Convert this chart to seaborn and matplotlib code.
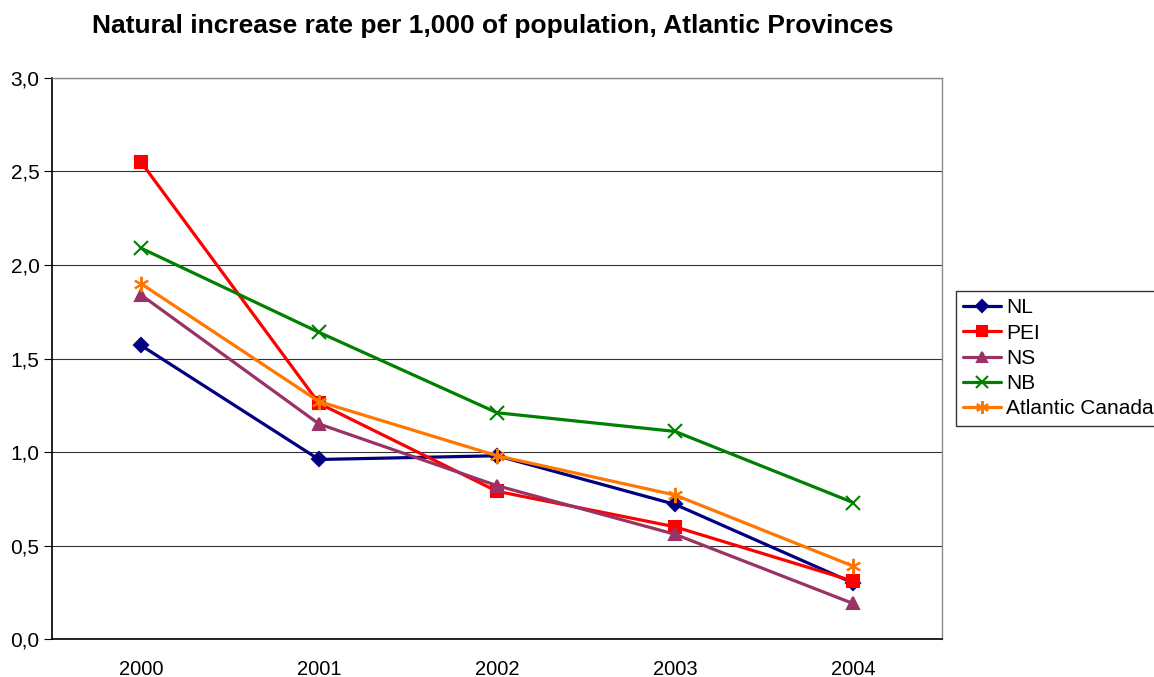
import matplotlib
matplotlib.use("Agg")
import matplotlib.pyplot as plt
import seaborn as sns
import pandas as pd

years = ["2000", "2001", "2002", "2003", "2004"]
nl = [1.57, 0.96, 0.98, 0.72, 0.30]
pei = [2.55, 1.26, 0.79, 0.60, 0.31]
ns = [1.84, 1.15, 0.82, 0.56, 0.19]
nb = [2.09, 1.64, 1.21, 1.11, 0.73]
atlantic = [1.90, 1.27, 0.98, 0.77, 0.39]

series = {"NL": nl, "PEI": pei, "NS": ns, "NB": nb, "Atlantic Canada": atlantic}
colors = {"NL": "#000080", "PEI": "#FF0000", "NS": "#993366",
          "NB": "#008000", "Atlantic Canada": "#FF7700"}
markers = {"NL": "D", "PEI": "s", "NS": "^", "NB": "x", "Atlantic Canada": (6, 2, 0)}
msizes = {"NL": 7.5, "PEI": 9, "NS": 9, "NB": 10, "Atlantic Canada": 11}

rows = []
for name, vals in series.items():
    for i, v in enumerate(vals):
        rows.append({"pos": i, "year": years[i], "Region": name, "value": v})
df = pd.DataFrame(rows)

sns.set_theme(style="white")
plt.rcParams["font.family"] = ["Liberation Sans", "DejaVu Sans"]
plt.rcParams["text.color"] = "black"
plt.rcParams["xtick.color"] = "black"
plt.rcParams["ytick.color"] = "black"
plt.rcParams["xtick.labelcolor"] = "black"
plt.rcParams["ytick.labelcolor"] = "black"

fig = plt.figure(figsize=(11.54, 6.77), dpi=100)
ax = fig.add_axes([0.0451, 0.0561, 0.7712, 0.8287])

for name in series:
    sub = df[df["Region"] == name]
    sns.lineplot(data=sub, x="pos", y="value", ax=ax, color=colors[name],
                 marker=markers[name], markersize=msizes[name],
                 markeredgecolor=colors[name], markeredgewidth=1.5,
                 linewidth=2.3, label=name, legend=False)

ax.set_xlim(-0.5, 4.5)
ax.set_ylim(0, 3.0)
ax.set_yticks([0, 0.5, 1.0, 1.5, 2.0, 2.5, 3.0])
ax.set_yticklabels([f"{t:.1f}".replace(".", ",") for t in ax.get_yticks()], fontsize=15)
ax.set_xticks(range(len(years)))
ax.set_xticklabels(years, fontsize=14.5)
ax.set_xticks([i - 0.5 for i in range(len(years) + 1)], minor=True)
ax.tick_params(axis="x", which="major", length=0, pad=15)
ax.tick_params(axis="x", which="minor", length=6, width=0.8, color="#555555", direction="out")
ax.tick_params(axis="y", length=6, width=0.8, color="black", direction="out", left=True, pad=3)
ax.set_xlabel("")
ax.set_ylabel("")

ax.yaxis.grid(True, color="#333333", linewidth=0.8)
ax.xaxis.grid(False)
ax.set_axisbelow(True)
for side in ["top", "right"]:
    ax.spines[side].set_color("#888888")
    ax.spines[side].set_linewidth(1.0)
for side in ["left", "bottom"]:
    ax.spines[side].set_color("black")
    ax.spines[side].set_linewidth(1.2)

fig.text(0.427, 0.962, "Natural increase rate per 1,000 of population, Atlantic Provinces",
         ha="center", va="center", fontsize=19, fontweight="bold", color="black")

handles, labels = ax.get_legend_handles_labels()
leg = fig.legend(handles, labels, loc="center left", bbox_to_anchor=(0.8284, 0.4705),
                 fontsize=15, frameon=True, fancybox=False, handlelength=1.8,
                 handletextpad=0.25, borderpad=0.35, labelspacing=0.3, borderaxespad=0,
                 markerscale=0.85)
leg.get_frame().set_edgecolor("black")
leg.get_frame().set_linewidth(1.0)
for t in leg.get_texts():
    t.set_color("black")

fig.savefig("out.png", dpi=100, facecolor="white")
